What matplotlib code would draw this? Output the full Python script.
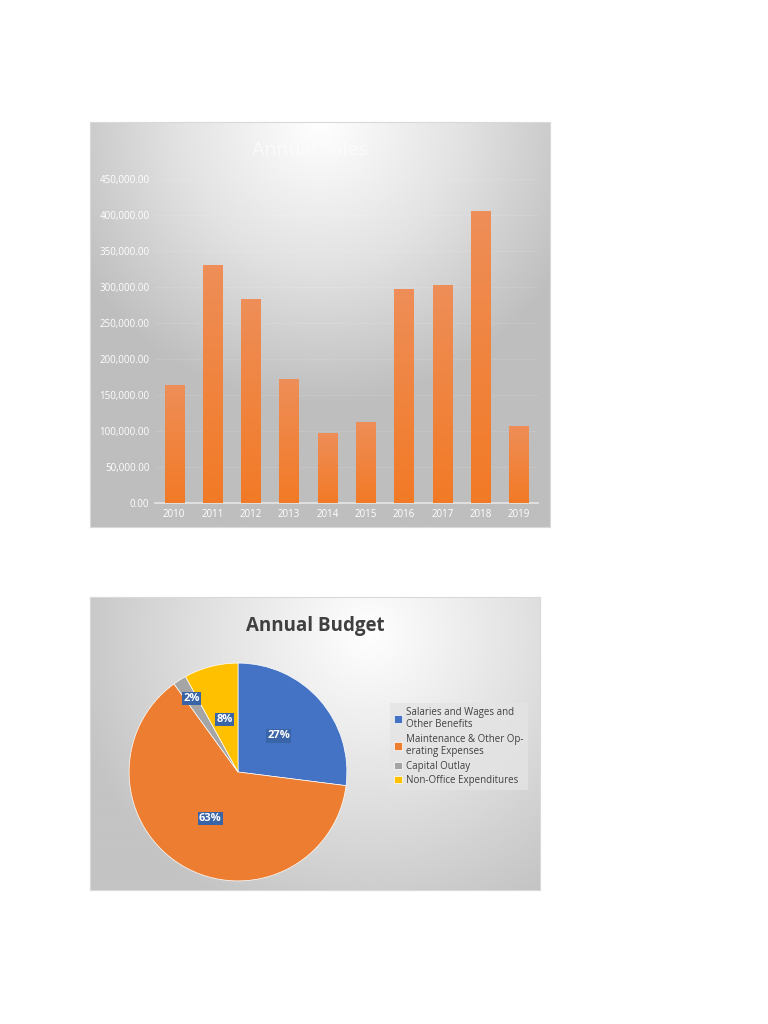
import numpy as np
import matplotlib
matplotlib.use("Agg")
import matplotlib.pyplot as plt
from matplotlib.colors import LinearSegmentedColormap

matplotlib.rcParams['font.family'] = ['Open Sans', 'DejaVu Sans']

# ---- data ----
years = ['2010', '2011', '2012', '2013', '2014', '2015', '2016', '2017', '2018', '2019']
sales = [164500, 331000, 284000, 172000, 97000, 113000, 297000, 303000, 405000, 107000]

budget_labels = ['Salaries and Wages and\nOther Benefits',
                 'Maintenance & Other Op-\nerating Expenses',
                 'Capital Outlay',
                 'Non-Office Expenditures']
budget_share = [27, 63, 2, 8]
budget_colors = ['#4472C4', '#ED7D31', '#A5A5A5', '#FFC000']

W, H = 768, 1024
fig = plt.figure(figsize=(W / 100, H / 100), dpi=100)
fig.patch.set_facecolor('white')


def px_axes(x0, y0, x1, y1, **kw):
    # pixel box (top-left origin) -> figure axes
    return fig.add_axes([x0 / W, 1 - y1 / H, (x1 - x0) / W, (y1 - y0) / H], **kw)


def gradient_panel(x0, y0, x1, y1, cx, cy, edge='#bebebe', spread=1.0):
    ax = px_axes(x0, y0, x1, y1)
    nx, ny = 300, 300
    xx, yy = np.meshgrid(np.linspace(0, 1, nx), np.linspace(0, 1, ny))
    aspect = (x1 - x0) / (y1 - y0)
    r = np.sqrt(((xx - cx) * aspect) ** 2 + (yy - cy) ** 2)
    r = np.clip(r / (aspect * spread), 0, 1)
    cmap = LinearSegmentedColormap.from_list(
        'bg', [(0, '#ffffff'), (0.33, '#e2e2e2'), (0.65, edge), (1, edge)])
    ax.imshow(r, cmap=cmap, extent=[0, 1, 1, 0], aspect='auto', vmin=0, vmax=1)
    ax.set_xlim(0, 1)
    ax.set_ylim(1, 0)
    ax.set_xticks([])
    ax.set_yticks([])
    for s in ax.spines.values():
        s.set_color('#d9d9d9')
        s.set_linewidth(0.8)
    return ax


# =========================
# BAR CHART - Annual Sales
# =========================
gradient_panel(90, 122, 550, 527, 0.5, 0.0, spread=0.95)
fig.text(310 / W, 1 - 150 / H, 'Annual Sales', ha='center', va='center',
         fontsize=14, color='white', alpha=0.6)

ax1 = px_axes(155, 179, 538, 503)
ax1.patch.set_alpha(0)
x = np.arange(len(years))
bars = ax1.bar(x, sales, width=0.5, color='#EF8444', zorder=3)

# vertical shading on each bar (lighter at the top)
bar_cmap = LinearSegmentedColormap.from_list('bar', ['#F27A26', '#EE8E58'])
grad = np.linspace(0, 1, 100).reshape(-1, 1)
for b in bars:
    im = ax1.imshow(grad, cmap=bar_cmap, origin='lower', aspect='auto', zorder=4,
                    extent=[b.get_x(), b.get_x() + b.get_width(), 0, b.get_height()])
    im.set_clip_path(b)
ax1.set_xlim(-0.5, len(years) - 0.5)
ax1.set_ylim(0, 450000)

ax1.set_yticks(np.arange(0, 450001, 50000))
ax1.set_yticklabels([f"{v:,.2f}" for v in np.arange(0, 450001, 50000)])
ax1.set_xticks(x)
ax1.set_xticklabels(years)
ax1.tick_params(length=0, labelsize=7, colors='white', pad=4)
ax1.grid(axis='y', color='white', alpha=0.12, linewidth=0.6, zorder=0)
for side in ['top', 'right', 'left']:
    ax1.spines[side].set_visible(False)
ax1.spines['bottom'].set_color('#e6e6e6')
ax1.spines['bottom'].set_linewidth(1.2)

# =========================
# PIE CHART - Annual Budget
# =========================
gradient_panel(90, 597, 540, 890, 0.62, 0.12, edge='#c4c4c4', spread=1.05)
fig.text(315 / W, 1 - 626 / H, 'Annual Budget', ha='center', va='center',
         fontsize=13.5, fontweight='bold', color='#404040')

ax2 = px_axes(128, 662, 348, 882)
ax2.patch.set_alpha(0)
wedges, texts, autotexts = ax2.pie(
    budget_share, colors=budget_colors, startangle=90, counterclock=False,
    autopct='%1.0f%%', pctdistance=0.5,
    wedgeprops=dict(edgecolor='white', linewidth=0.5),
    textprops=dict(color='white', fontsize=8, fontweight='bold'))
for t in autotexts:
    t.set_bbox(dict(boxstyle='square,pad=0.1', facecolor='#3A64A8', edgecolor='none'))
# small slice label sits further out
w = wedges[2]
mid = np.deg2rad((w.theta1 + w.theta2) / 2)
autotexts[2].set_position((0.8 * np.cos(mid), 0.8 * np.sin(mid)))
ax2.set_xlim(-1.01, 1.01)
ax2.set_ylim(-1.01, 1.01)
ax2.set_aspect('equal')

leg = fig.legend(wedges, budget_labels, loc='upper left',
                 bbox_to_anchor=(385 / W, 1 - 698 / H), frameon=True,
                 fontsize=7, handlelength=0.8, handleheight=0.8,
                 handletextpad=0.5, labelspacing=0.35, borderpad=0.4,
                 labelcolor='#404040', fancybox=False)
leg.get_frame().set_facecolor('#e4e4e4')
leg.get_frame().set_edgecolor('none')
leg.get_frame().set_alpha(0.8)

fig.savefig('out.png', dpi=100, facecolor='white')
